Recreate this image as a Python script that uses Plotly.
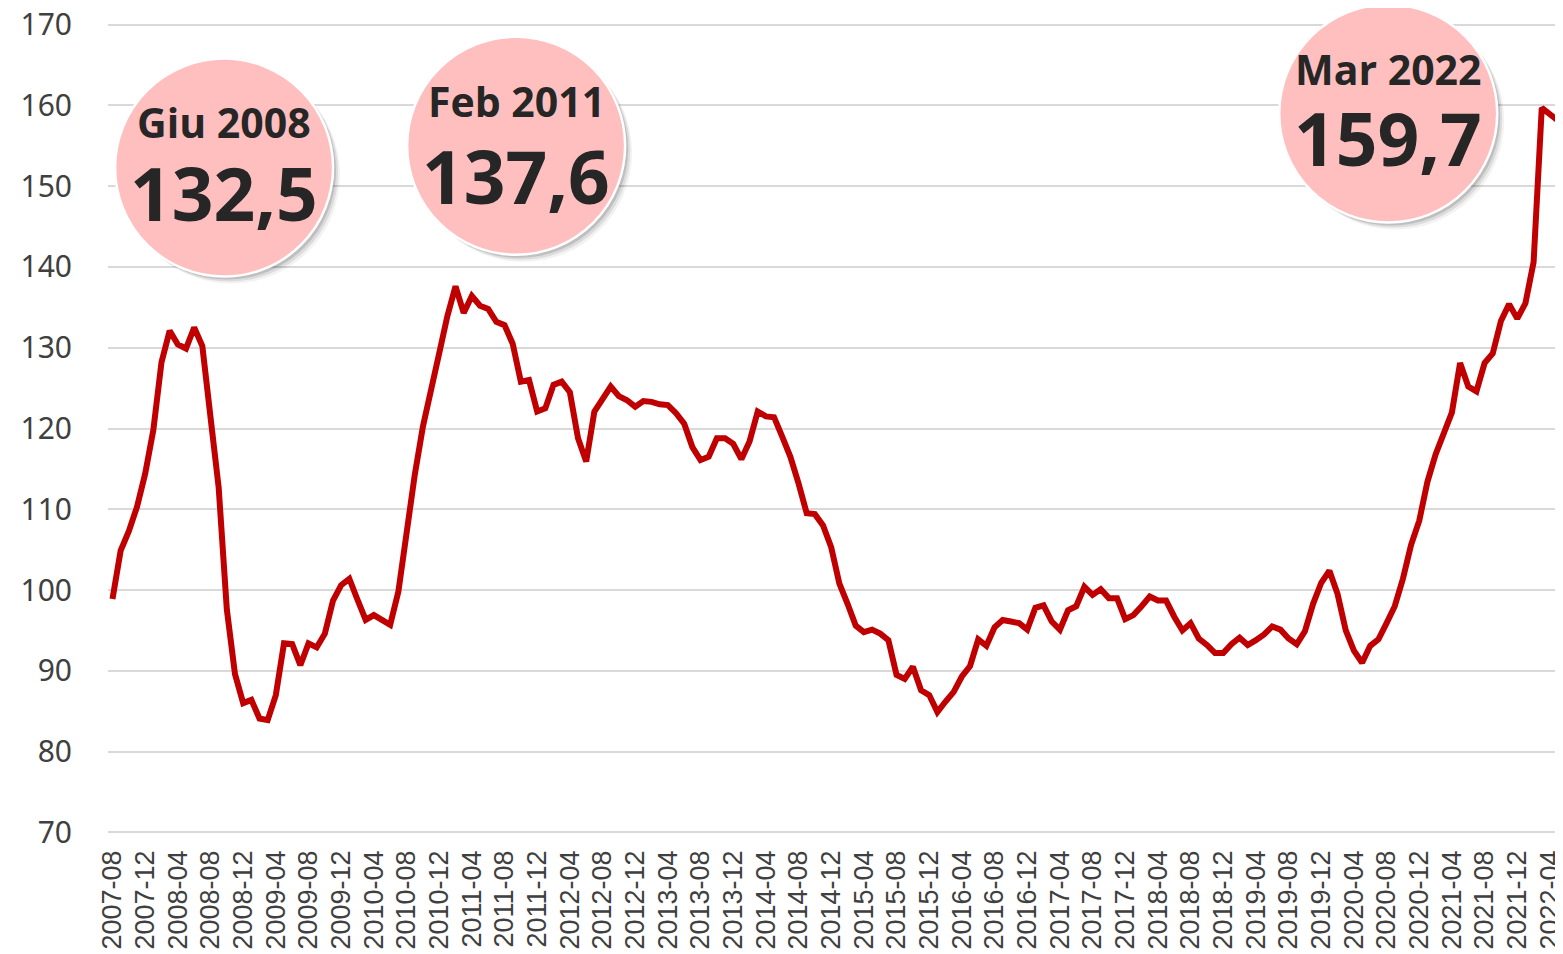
import plotly.graph_objects as go
import pandas as pd

# FAO food price index, monthly (Aug 2007 - Jun 2022)
values = [
    98.9, 104.9, 107.3, 110.3, 114.4,                                              # 2007
    119.8, 128.2, 132.1, 130.4, 129.9, 132.5, 130.2, 121.4, 112.7, 97.6, 89.6, 86.0,  # 2008
    86.4, 84.1, 83.9, 87.0, 93.4, 93.3, 90.7, 93.4, 92.9, 94.6, 98.7, 100.6,        # 2009
    101.4, 98.8, 96.3, 96.9, 96.4, 95.7, 99.8, 107.7, 114.2, 120.2, 124.4, 129.3,   # 2010
    133.9, 137.6, 134.3, 136.4, 135.2, 134.8, 133.2, 132.8, 130.5, 125.8, 126.0, 122.1,  # 2011
    122.5, 125.4, 125.8, 124.5, 118.8, 115.9, 122.1, 123.5, 125.2, 124.0, 123.5, 122.7,  # 2012
    123.4, 123.3, 123.0, 122.9, 121.9, 120.6, 117.7, 116.1, 116.5, 118.8, 118.8, 118.1,  # 2013
    116.2, 118.4, 122.1, 121.5, 121.4, 119.0, 116.5, 113.2, 109.5, 109.4, 108.0, 105.3,  # 2014
    100.8, 98.3, 95.6, 94.8, 95.1, 94.6, 93.8, 89.5, 89.0, 90.5, 87.6, 87.0,        # 2015
    84.9, 86.2, 87.4, 89.3, 90.6, 93.9, 93.1, 95.4, 96.3, 96.1, 95.9, 95.1,         # 2016
    97.8, 98.1, 96.1, 95.1, 97.5, 98.0, 100.4, 99.4, 100.1, 99.0, 99.0, 96.4,       # 2017
    96.9, 98.0, 99.2, 98.7, 98.7, 96.7, 95.0, 95.9, 94.0, 93.2, 92.2, 92.2,         # 2018
    93.3, 94.1, 93.2, 93.8, 94.5, 95.5, 95.1, 94.0, 93.3, 94.9, 98.3, 100.9,        # 2019
    102.4, 99.5, 95.0, 92.5, 91.0, 93.1, 93.9, 95.9, 98.0, 101.4, 105.6, 108.6,     # 2020
    113.4, 116.8, 119.4, 122.0, 128.1, 125.2, 124.6, 128.1, 129.3, 133.3, 135.4, 133.6,  # 2021
    135.5, 140.6, 159.7, 158.8, 158.1, 155.0,                                       # 2022
]
months = [p.strftime("%Y-%m") for p in pd.period_range("2007-08", periods=len(values), freq="M")]
x_idx = list(range(len(values)))
tick_idx = x_idx[::4]
tick_text = months[::4]
y_ticks = list(range(70, 171, 10))

# bubbles: label, value, centre (month index, index level)
bubble_labels = ["Giu 2008", "Feb 2011", "Mar 2022"]
bubble_values = ["132,5", "137,6", "159,7"]
bubble_x = [13.66, 49.42, 156.2]
bubble_y = [152.3, 155.0, 159.0]
label_y = [158.0, 160.6, 164.5]
value_y = [149.2, 151.3, 156.0]

X_RANGE = [-0.55, 177.6]
Y_RANGE = [69.8, 170.2]   # a hair of headroom so the 70 and 170 gridlines show


def to_paper_x(v):
    return (v - X_RANGE[0]) / (X_RANGE[1] - X_RANGE[0])


def to_paper_y(v):
    return (v - Y_RANGE[0]) / (Y_RANGE[1] - Y_RANGE[0])


fig = go.Figure()
fig.add_trace(go.Scatter(
    x=x_idx, y=values, mode="lines",
    line=dict(color="#C00000", width=6),
    hoverinfo="skip", showlegend=False,
))

R = 109
shapes = []
for bx, by in zip(bubble_x, bubble_y):
    px, py = to_paper_x(bx), to_paper_y(by)
    # soft drop shadow
    for off, op in [(7, 0.05), (5, 0.09), (3, 0.13)]:
        shapes.append(dict(
            type="circle", xref="paper", yref="paper", xsizemode="pixel", ysizemode="pixel",
            xanchor=px, yanchor=py, x0=-R + off, x1=R + off, y0=-R - off, y1=R - off,
            fillcolor=f"rgba(0,0,0,{op})", line=dict(width=0), layer="above",
        ))
    shapes.append(dict(
        type="circle", xref="paper", yref="paper", xsizemode="pixel", ysizemode="pixel",
        xanchor=px, yanchor=py, x0=-R, x1=R, y0=-R, y1=R,
        fillcolor="#FFBFBF", line=dict(color="white", width=2.5), layer="above",
    ))

annotations = []
for bx, lab, val, ly, vy in zip(bubble_x, bubble_labels, bubble_values, label_y, value_y):
    annotations.append(dict(
        x=bx, y=ly, xref="x", yref="y", text=f"<b>{lab}</b>", showarrow=False,
        font=dict(family="Open Sans", size=41, color="#262626"),
        xanchor="center", yanchor="middle",
    ))
    annotations.append(dict(
        x=bx, y=vy, xref="x", yref="y", text=f"<b>{val}</b>", showarrow=False,
        font=dict(family="Open Sans", size=73, color="#262626"),
        xanchor="center", yanchor="middle",
    ))

# page body adds an 8px offset, so the figure is 8px smaller than the window
fig.update_layout(
    width=1555, height=946,
    margin=dict(l=100, r=0, t=15.4, b=120.4, autoexpand=False),
    paper_bgcolor="white", plot_bgcolor="white",
    shapes=shapes, annotations=annotations,
    showlegend=False,
)
fig.update_xaxes(
    range=X_RANGE, tickmode="array", tickvals=tick_idx, ticktext=tick_text,
    tickangle=-90, showgrid=False, zeroline=False, showline=False, ticks="",
    tickfont=dict(family="Liberation Sans", size=27, color="#404040"),
    ticklabelstandoff=10, ticklabeloverflow="allow", automargin=False,
)
fig.update_yaxes(
    range=Y_RANGE, tickmode="array", tickvals=y_ticks,
    showgrid=True, gridcolor="#D9D9D9", gridwidth=1.5,
    zeroline=False, showline=False, ticks="",
    tickfont=dict(family="Noto Sans", size=30, color="#404040"),
    ticklabelstandoff=35, ticklabeloverflow="allow", automargin=False,
)

fig.write_html("out.html")
